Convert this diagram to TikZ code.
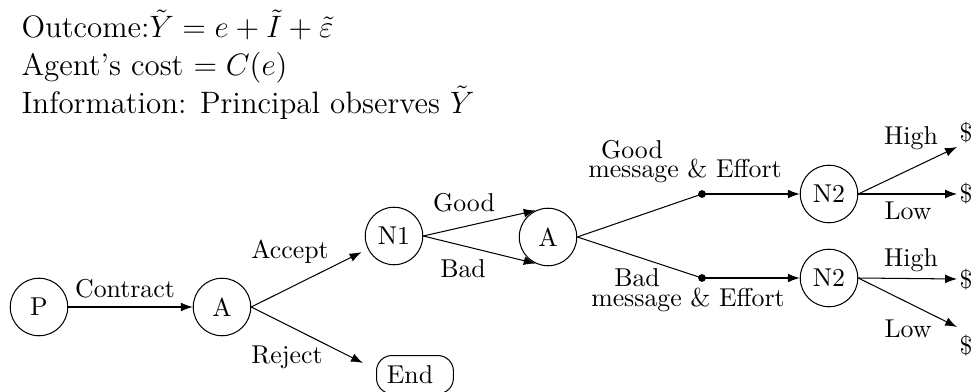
\documentclass[tikz,border=0pt]{standalone}
\usetikzlibrary{arrows.meta}
\begin{document}
\begin{tikzpicture}[x=0.3876pt,y=-0.3876pt,
  st/.style={circle,draw,minimum size=22.3pt,inner sep=1pt},
  arr/.style={-{Latex[length=4.6pt,width=3.4pt]}},
  lbl/.style={anchor=base,inner sep=0pt},
  top/.style={anchor=base west,inner sep=0pt,font=\large},
  dollar/.style={inner sep=0pt},
  dot/.style={circle,fill,inner sep=0pt,minimum size=3pt}]
\useasboundingbox (0,0) rectangle (977,392);
% header text
\node[top] (t1) at (21,38) {Outcome:$\tilde{Y} = e + \tilde{I} + \tilde{\varepsilon}$};
\node[top] (t2) at (21,76) {Agent's cost $= C(e)$};
\node[top] (t3) at (21,114) {Information: Principal observes $\tilde{Y}$};
% nodes
\node[st] (P) at (39,307) {P};
\node[st] (A1) at (222,307) {A};
\node[st] (N1) at (394,236) {N1};
\node[st] (A2) at (548,237) {A};
\node[dot] (d1) at (702,194) {};
\node[dot] (d2) at (702,278) {};
\node[st] (N2a) at (829,194) {N2};
\node[st] (N2b) at (829,278) {N2};
\node[draw,rounded corners=6pt,anchor=north west,text width=21.8pt,align=left,
  inner xsep=4pt,minimum height=14.8pt] (End) at (376,355) {End};
\node[dollar] (s1) at (966,133) {\$};
\node[dollar] (s2) at (966,194) {\$};
\node[dollar] (s3) at (966,280) {\$};
\node[dollar] (s4) at (966,346) {\$};
% free ends
\coordinate (rj) at (363,363);
\coordinate (h1) at (957,147);
\coordinate (l1) at (957,194);
\coordinate (h2) at (957,279);
\coordinate (l2) at (957,327);
% connectors
\draw[arr] (P) -- (A1);
\draw[arr,shorten >=2.7pt] (A1.east) -- (N1);
\draw[arr] (A1.east) -- (rj);
\draw[arr] (N1.east) -- (A2.115);
\draw[arr] (N1.east) -- (A2.245);
\draw (A2.east) -- (d1.center);
\draw (A2.east) -- (d2.center);
\draw[arr] (d1.center) -- (N2a);
\draw[arr] (d2.center) -- (N2b);
\draw[arr] (N2a.east) -- (h1);
\draw[arr] (N2a.east) -- (l1);
\draw[arr] (N2b.east) -- (h2);
\draw[arr] (N2b.east) -- (l2);
% labels
\node[lbl] (lc) at (125,298) {Contract};
\node[lbl] (la) at (290,259) {Accept};
\node[lbl] (lr) at (287,364) {Reject};
\node[lbl] (lg) at (464,212) {Good};
\node[lbl] (lb) at (463,278) {Bad};
\node[lbl] (lg2) at (632,159) {Good};
\node[lbl] (lm1) at (685,178) {message \& Effort};
\node[lbl] (lb2) at (637,287) {Bad};
\node[lbl] (lm2) at (688,307) {message \& Effort};
\node[lbl] (lh1) at (911,145) {High};
\node[lbl] (ll1) at (908,220) {Low};
\node[lbl] (lh2) at (911,267) {High};
\node[lbl] (ll2) at (908,338) {Low};
\end{tikzpicture}
\end{document}
